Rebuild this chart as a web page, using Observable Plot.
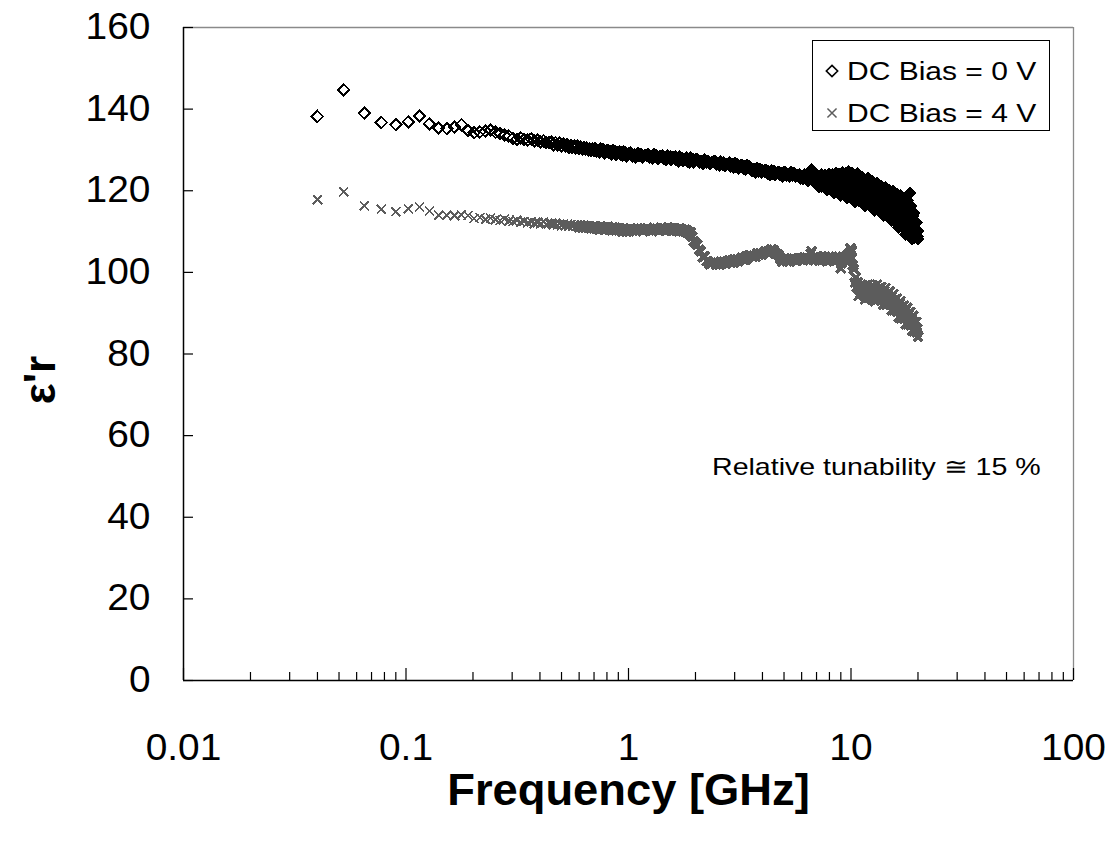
<!DOCTYPE html>
<html>
<head>
<meta charset="utf-8">
<script src="https://cdn.jsdelivr.net/npm/d3@7"></script>
<script src="https://cdn.jsdelivr.net/npm/@observablehq/plot@0.6"></script>
<style>
  body { margin: 0; background: #fff; }
  #wrap { position: relative; width: 1117px; height: 843px; font-family: "Liberation Sans", Arial, sans-serif; color: #000; }
  #legend { position: absolute; left: 812px; top: 40px; width: 236px; height: 89px; border: 1.5px solid #000; background: #fff; }
  #legend .row { position: absolute; left: 0; width: 236px; height: 42px; line-height: 42px; font-size: 25px; white-space: nowrap; }
  #legend svg { position: absolute; left: 10px; top: 12px; }
  #legend span { position: absolute; left: 34px; transform: scaleX(1.2); transform-origin: 0 50%; }
  #note { position: absolute; left: 712px; top: 453px; font-size: 24px; line-height: 28px; white-space: nowrap; transform: scaleX(1.19); transform-origin: 0 50%; }
</style>
</head>
<body>
<div id="wrap"><div id="legend"></div><div id="note"></div></div>
<script>
// ---------- data ----------
const freq = [
  0.04,0.0525,0.065,0.0775,0.09,0.1025,0.115,0.1275,0.14,0.1525,0.165,0.1775,0.19,0.2025,0.215,0.2275,0.24,0.2525,0.265,0.2775,0.29,0.3025,0.315,0.3275,0.34,0.3525,0.365,0.3775,0.39,0.4025,0.415,0.4275,0.44,
  0.45,0.46,0.47,0.48,0.49,0.50,0.51,0.52,0.53,0.54,0.55,0.56,0.57,0.58,0.59,0.60,0.61,0.62,0.63,0.64,0.65,0.66,0.67,0.68,0.69,0.70,
  0.71,0.72,0.73,0.74,0.75,0.76,0.77,0.78,0.79,0.80,0.81,0.82,0.83,0.84,0.85,0.86,0.87,0.88,0.89,0.90,0.91,0.92,0.93,0.94,0.95,0.96,0.97,0.98,0.99,1.00,
  1.02,1.04,1.06,1.08,1.10,1.12,1.14,1.16,1.18,1.20,1.22,1.24,1.26,1.28,1.30,1.32,1.34,1.36,1.38,1.40,
  1.42,1.44,1.46,1.48,1.50,1.52,1.54,1.56,1.58,1.60,1.62,1.64,1.66,1.68,1.70,1.72,1.74,1.76,1.78,1.80,
  1.82,1.84,1.86,1.88,1.90,1.92,1.94,1.96,1.98,2.00,
  2.04,2.08,2.12,2.16,2.20,2.24,2.28,2.32,2.36,2.40,2.44,2.48,2.52,2.56,2.60,2.64,2.68,2.72,2.76,2.80,
  2.84,2.88,2.92,2.96,3.00,3.04,3.08,3.12,3.16,3.20,3.24,3.28,3.32,3.36,3.40,3.44,3.48,
  3.54,3.60,3.66,3.72,3.78,3.84,3.90,3.96,4.02,4.08,4.14,4.20,4.26,4.32,4.38,4.44,4.50,4.56,4.62,4.68,4.74,4.80,4.86,4.92,4.98,
  5.06,5.14,5.22,5.30,5.38,5.46,5.54,5.62,5.70,5.78,5.86,5.94,6.02,6.10,6.18,6.26,6.34,6.42,6.50,6.58,6.66,6.74,6.82,6.90,6.98,
  7.05,7.10,7.15,7.20,7.25,7.30,7.35,7.40,7.45,7.50,7.55,7.60,7.65,7.70,7.75,7.80,7.85,7.90,7.95,8.00,
  8.05,8.10,8.15,8.20,8.25,8.30,8.35,8.40,8.45,8.50,8.55,8.60,8.65,8.70,8.75,8.80,8.85,8.90,8.95,9.00,
  9.05,9.10,9.15,9.20,9.25,9.30,9.35,9.40,9.45,9.50,9.55,9.60,9.65,9.70,9.75,9.80,9.85,9.90,9.95,10.00,
  10.1,10.2,10.3,10.4,10.5,10.6,10.7,10.8,10.9,11.0,11.1,11.2,11.3,11.4,11.5,11.6,11.7,11.8,11.9,12.0,
  12.1,12.2,12.3,12.4,12.5,12.6,12.7,12.8,12.9,13.0,13.1,13.2,13.3,13.4,13.5,13.6,13.7,13.8,13.9,14.0,
  14.1,14.2,14.3,14.4,14.5,14.6,14.7,14.8,14.9,15.0,15.1,15.2,15.3,15.4,15.5,15.6,15.7,15.8,15.9,16.0,
  16.1,16.2,16.3,16.4,16.5,16.6,16.7,16.8,16.9,17.0,17.1,17.2,17.3,17.4,17.5,17.6,17.7,17.8,17.9,18.0,
  18.1,18.2,18.3,18.4,18.5,18.6,18.7,18.8,18.9,19.0,19.1,19.2,19.3,19.4,19.5,19.6,19.7,19.8,19.9,20.0
];
const eps0V = [
  138.2,144.7,139.0,136.7,136.2,136.9,138.3,136.4,135.4,135.2,135.6,136.2,134.8,134.2,134.4,134.6,134.9,134.3,134.0,133.6,133.4,132.9,132.6,133.0,132.5,132.4,132.7,132.2,132.4,132.0,132.3,131.8,131.9,
  131.9,131.3,131.8,131.2,131.6,131.0,131.4,130.9,131.3,130.7,131.1,130.6,131.0,130.5,130.9,130.3,130.8,130.2,130.6,130.1,130.5,129.9,130.3,129.8,130.2,129.7,
  130.4,129.7,130.0,129.4,130.3,129.7,130.1,129.3,129.7,129.8,130.0,129.3,129.6,129.0,129.9,129.3,129.7,128.9,129.3,129.4,
  129.6,128.9,129.2,128.6,129.5,128.9,129.3,128.5,128.9,129.0,
  129.2,128.5,128.8,128.2,129.2,128.6,128.9,128.2,128.6,128.7,128.9,128.2,128.5,127.9,128.9,128.3,128.6,127.9,128.3,128.4,
  128.6,127.9,128.2,127.6,128.6,128.0,128.3,127.6,128.0,128.1,128.3,127.6,127.9,127.3,128.3,127.7,128.0,127.3,127.7,127.8,
  128.0,127.3,127.6,127.0,128.0,127.4,127.7,127.0,127.4,127.5,
  127.7,127.0,127.3,126.7,127.6,127.0,127.3,126.6,126.9,127.1,127.2,126.5,126.8,126.2,127.1,126.5,126.9,126.1,126.5,126.6,
  126.8,126.0,126.4,125.7,126.7,126.0,126.4,125.6,126.0,126.1,126.3,125.5,125.9,125.3,126.2,125.6,125.9,
  125.6,124.9,125.2,124.6,125.5,124.9,125.3,124.5,124.9,124.8,125.0,124.3,124.6,124.0,124.9,124.3,124.7,123.9,124.3,124.4,124.6,123.9,124.2,123.6,124.5,
  124.5,123.8,124.1,123.5,124.5,123.8,124.2,123.5,123.8,123.7,123.9,123.1,123.5,122.9,123.8,123.2,123.6,122.5,122.9,123.1,125.1,122.5,122.9,122.1,123.3,
  123.7,121.8,122.7,121.0,123.3,122.1,123.9,121.1,122.8,121.7,123.5,122.3,123.8,121.3,122.6,120.3,123.3,121.7,124.1,120.5,
  122.7,121.2,123.5,122.0,124.0,120.8,122.4,119.6,123.3,121.4,124.3,119.9,122.5,120.8,123.5,121.7,124.1,120.4,122.2,118.9,
  123.3,121.0,124.4,119.2,122.4,120.3,123.6,121.5,124.2,119.9,122.0,118.2,123.3,120.7,124.6,118.6,122.3,119.9,123.6,121.2,
  124.2,119.3,121.6,117.3,122.8,119.9,124.1,117.7,121.4,118.9,122.7,120.1,123.2,118.2,120.5,116.3,121.8,118.9,123.0,116.6,
  120.4,117.8,121.6,119.0,122.1,117.1,119.5,115.2,120.7,117.8,121.9,115.5,119.3,116.7,120.5,118.0,121.0,116.0,118.4,114.1,
  119.6,116.7,120.8,114.4,118.2,115.6,119.4,116.8,120.0,114.8,117.2,112.7,118.6,115.4,119.9,113.0,117.1,114.2,118.4,115.6,
  119.1,113.4,116.0,111.1,117.4,114.0,118.8,111.3,115.7,112.7,117.2,114.1,117.8,111.7,114.6,109.3,116.1,112.5,117.6,109.6,
  114.3,111.0,115.7,119.4,116.3,109.9,112.7,108.2,113.8,110.7,114.6,108.5,111.7,109.5,112.3,110.3,112.2,108.8,110.1,108.2
];
const eps4V = [
  117.8,119.7,116.3,115.5,114.9,115.6,116.0,115.0,114.0,114.0,113.9,114.1,113.9,113.2,113.4,113.0,113.3,112.9,112.7,113.1,112.6,112.5,112.8,112.3,112.5,112.1,112.4,112.0,112.2,111.9,112.3,111.8,112.0,
  112.1,111.7,112.0,111.6,111.9,111.5,111.8,111.4,111.8,111.3,111.7,111.3,111.6,111.2,111.5,111.1,111.5,111.0,111.4,111.0,111.3,110.9,111.2,110.8,111.2,110.8,
  111.3,110.7,111.0,110.5,111.3,110.8,111.1,110.5,110.8,110.9,111.1,110.5,110.8,110.3,111.1,110.6,110.9,110.3,110.6,110.7,
  110.8,110.3,110.6,110.0,110.8,110.3,110.6,110.0,110.3,110.5,
  110.7,110.2,110.5,110.0,110.8,110.4,110.7,110.1,110.5,110.6,110.8,110.3,110.6,110.1,110.9,110.5,110.8,110.2,110.6,110.7,
  110.9,110.4,110.7,110.2,111.0,110.5,110.8,110.2,110.6,110.7,110.8,110.2,110.5,110.0,110.8,110.3,110.6,110.0,110.3,110.4,
  110.4,109.8,110.0,109.3,109.8,108.9,108.7,107.7,107.5,107.2,
  106.7,105.6,105.1,103.8,103.9,102.8,102.7,102.0,102.2,102.4,102.5,102.0,102.3,101.8,102.7,102.2,102.6,102.1,102.5,102.7,
  102.9,102.4,102.8,102.4,103.2,102.8,103.2,102.7,103.1,103.4,103.6,103.1,103.5,103.1,104.0,103.6,104.0,
  104.2,103.8,104.2,103.8,104.7,104.3,104.7,104.3,104.7,105.0,105.2,104.8,105.2,104.8,105.7,105.2,105.5,104.7,104.6,104.4,104.1,103.3,103.3,102.6,103.3,
  103.3,102.7,103.0,102.6,103.4,103.0,103.3,102.8,103.2,103.4,103.5,103.1,103.4,102.9,103.8,103.3,103.6,103.1,103.5,104.6,105.2,103.3,103.6,103.0,103.8,
  103.8,103.1,103.4,102.8,103.6,103.2,103.8,102.9,103.5,103.1,103.7,103.3,103.8,103.1,103.4,102.8,103.6,103.2,103.8,102.9,
  103.5,103.1,103.7,103.3,103.8,103.1,103.4,102.8,103.6,103.2,103.8,102.9,103.5,103.1,103.7,103.3,103.8,103.1,103.4,101.0,
  102.2,103.2,103.8,102.9,103.5,103.1,103.7,103.3,103.8,103.1,103.6,102.8,103.9,103.4,104.5,103.6,104.8,104.0,105.9,105.0,
  105.4,101.8,100.8,97.5,98.7,96.5,97.5,94.2,96.0,94.7,96.7,95.3,96.9,94.4,95.7,93.4,96.3,94.8,97.0,93.8,
  95.8,94.3,96.5,95.1,96.9,94.1,95.4,93.0,96.2,94.6,97.0,93.3,95.5,94.0,96.2,94.7,96.4,93.5,94.8,92.1,
  95.5,93.7,96.2,92.1,94.5,92.7,95.0,93.4,95.3,92.1,93.5,90.7,94.1,92.2,94.7,90.6,92.9,91.2,93.5,91.8,
  93.6,90.4,91.8,89.0,92.4,90.5,93.0,88.8,91.1,89.4,91.7,90.0,91.9,88.7,90.1,87.3,90.7,88.8,91.3,87.2,
  89.5,87.8,90.1,88.4,90.3,87.1,88.5,85.7,89.1,87.2,89.4,85.6,87.6,86.1,87.9,86.5,87.8,85.3,86.2,84.2
];
const seriesNames = ["DC Bias = 0 V", "DC Bias = 4 V"];
const xMajor = [0.01, 0.1, 1, 10, 100];
const xMajorLabels = ["0.01", "0.1", "1", "10", "100"];
const xMinor = [0.02,0.03,0.04,0.05,0.06,0.07,0.08,0.09, 0.2,0.3,0.4,0.5,0.6,0.7,0.8,0.9, 2,3,4,5,6,7,8,9, 20,30,40,50,60,70,80,90];
const yTicks = [0, 20, 40, 60, 80, 100, 120, 140, 160];
const xTitle = "Frequency [GHz]";
const yTitle = "\u03b5'r";
const noteText = "Relative tunability \u2245 15 %";

// ---------- build ----------
const FONT = '"Liberation Sans", Arial, sans-serif';
const n = Math.min(freq.length, eps0V.length, eps4V.length);
const rows0 = [], rows4 = [];
for (let i = 0; i < n; i++) {
  rows0.push({f: freq[i], v: eps0V[i]});
  rows4.push({f: freq[i], v: eps4V[i]});
}
const C0 = "#000000", C4 = "#5c5c5c";
const R0 = 5.1, R4 = 4.2;
// where the measured sweep is so dense that the overlapping markers merge into a solid band
const DENSE = 0.6;
const sparse = d => d.f < DENSE, dense = d => d.f >= DENSE;

const chart = Plot.plot({
  width: 1117, height: 843,
  marginLeft: 183, marginRight: 44, marginTop: 27, marginBottom: 163,
  style: {fontFamily: FONT, background: "transparent", color: "#000", overflow: "visible"},
  x: {type: "log", domain: [0.01, 100], axis: null},
  y: {domain: [0, 160], axis: null},
  marks: [
    Plot.ruleY([160], {stroke: "#8a8a8a", strokeWidth: 1.3}),
    Plot.ruleX([100], {stroke: "#8a8a8a", strokeWidth: 1.3}),
    Plot.axisX(xMinor, {tickSize: -8, tickFormat: () => "", label: null, strokeWidth: 1.2}),
    Plot.axisX(xMajor, {tickSize: -12, tickFormat: () => "", label: null, strokeWidth: 1.2}),
    Plot.axisY(yTicks, {tickSize: -10, tickFormat: () => "", label: null, strokeWidth: 1.2}),
    Plot.ruleY([0], {strokeWidth: 1.5}),
    Plot.ruleX([0.01], {strokeWidth: 1.5}),
    Plot.text(xMajor, {x: d => d, text: (d, i) => xMajorLabels[i], frameAnchor: "bottom", dy: 68, fontSize: 36, lineAnchor: "middle", textAnchor: "middle", className: "tk"}),
    Plot.text(yTicks, {y: d => d, text: d => String(d), frameAnchor: "left", dx: -33, textAnchor: "end", fontSize: 36, lineAnchor: "middle", className: "tk"}),
    Plot.dot(rows0, {filter: sparse, x: "f", y: "v", symbol: "diamond2", r: R0, stroke: C0, strokeWidth: 1.9, fill: "none", shapeRendering: "crispEdges"}),
    Plot.dot(rows0, {filter: dense, x: "f", y: "v", symbol: "diamond2", r: R0, stroke: C0, strokeWidth: 1.6, fill: C0, shapeRendering: "crispEdges"}),
    Plot.dot(rows4, {filter: sparse, x: "f", y: "v", symbol: "times", r: R4, stroke: C4, strokeWidth: 1.8, shapeRendering: "crispEdges"}),
    Plot.dot(rows4, {filter: dense, x: "f", y: "v", symbol: "times", r: R4, stroke: C4, strokeWidth: 3.2, shapeRendering: "crispEdges"}),
    Plot.text([xTitle], {frameAnchor: "bottom", dy: 110, fontSize: 44, fontWeight: "bold", lineAnchor: "middle", textAnchor: "middle", className: "ttl"}),
    Plot.text([yTitle], {frameAnchor: "left", dx: -143, dy: 26, rotate: -90, fontSize: 44, fontWeight: "bold", lineAnchor: "middle", textAnchor: "middle"})
  ]
});
const wrap = document.getElementById("wrap");
wrap.insertBefore(chart, wrap.firstChild);

// widen text horizontally like the (slightly stretched) reference rendering
function stretch(sel, k) {
  chart.querySelectorAll(sel).forEach(t => {
    const w = t.getComputedTextLength();
    t.setAttribute("textLength", (w * k).toFixed(1));
    t.setAttribute("lengthAdjust", "spacingAndGlyphs");
  });
}
stretch("g.tk text", 1.08);
stretch("g.ttl text", 1.03);

// legend
const legend = document.getElementById("legend");
const symTypes = [d3.symbolDiamond2, d3.symbolTimes];
const symColors = [C0, C4];
const symSizes = [Math.PI * R0 * R0, Math.PI * R4 * R4];
seriesNames.forEach((name, i) => {
  const row = document.createElement("div");
  row.className = "row";
  row.style.top = (9 + 42 * i) + "px";
  const svg = d3.create("svg").attr("width", 18).attr("height", 18);
  svg.append("path")
    .attr("transform", "translate(9,9)")
    .attr("d", d3.symbol(symTypes[i], symSizes[i])())
    .attr("fill", "none").attr("stroke", symColors[i]).attr("stroke-width", i ? 1.5 : 1.6);
  row.appendChild(svg.node());
  const span = document.createElement("span");
  span.textContent = name;
  row.appendChild(span);
  legend.appendChild(row);
});
document.getElementById("note").textContent = noteText;
</script>
</body>
</html>
